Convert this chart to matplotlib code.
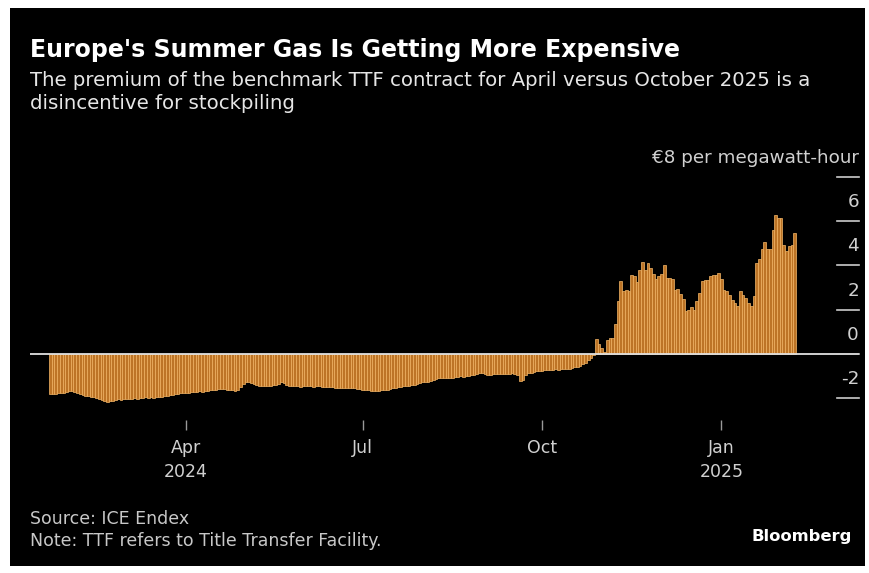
import matplotlib
matplotlib.use('Agg')
import matplotlib.pyplot as plt
from matplotlib.patches import Rectangle
import matplotlib.transforms as mtransforms
import numpy as np
import pandas as pd

# Data: daily TTF April-25 minus October-25 premium (EUR/MWh)
start_date = '2024-01-22'
end_date = '2025-02-07'
premium = [
    # Jan 22 - Mar 29, 2024
    -1.82, -1.84, -1.83, -1.80, -1.78,
    -1.76, -1.74, -1.70, -1.68, -1.72,
    -1.78, -1.82, -1.86, -1.90, -1.93,
    -1.95, -1.98, -2.02, -2.06, -2.10,
    -2.15, -2.17, -2.14, -2.12, -2.09,
    -2.06, -2.08, -2.05, -2.07, -2.04,
    -2.05, -2.02, -2.04, -2.01, -2.00,
    -1.98, -2.00, -1.97, -1.99, -1.96,
    -1.97, -1.95, -1.93, -1.90, -1.88,
    -1.86, -1.84, -1.82, -1.80, -1.79,
    # Apr 1 - Jun 28
    -1.78, -1.76, -1.75, -1.72, -1.73,
    -1.70, -1.72, -1.69, -1.67, -1.66,
    -1.64, -1.62, -1.60, -1.58, -1.61,
    -1.63, -1.65, -1.66, -1.68, -1.64,
    -1.50, -1.38, -1.30, -1.28, -1.33,
    -1.38, -1.42, -1.44, -1.46, -1.45,
    -1.47, -1.45, -1.43, -1.40, -1.38,
    -1.30, -1.32, -1.40, -1.44, -1.46,
    -1.48, -1.47, -1.49, -1.48, -1.46,
    -1.47, -1.48, -1.49, -1.47, -1.48,
    -1.49, -1.50, -1.50, -1.51, -1.52,
    -1.53, -1.54, -1.53, -1.55, -1.55,
    -1.56, -1.55, -1.57, -1.58, -1.60,
    # Jul 1 - Sep 27
    -1.62, -1.64, -1.66, -1.67, -1.68,
    -1.70, -1.68, -1.66, -1.64, -1.62,
    -1.58, -1.56, -1.54, -1.52, -1.50,
    -1.48, -1.46, -1.44, -1.42, -1.40,
    -1.36, -1.33, -1.30, -1.28, -1.26,
    -1.22, -1.18, -1.15, -1.12, -1.10,
    -1.10, -1.08, -1.10, -1.09, -1.06,
    -1.05, -1.03, -1.04, -1.02, -1.00,
    -0.98, -0.95, -0.90, -0.86, -0.88,
    -0.92, -0.95, -0.96, -0.94, -0.93,
    -0.92, -0.90, -0.93, -0.91, -0.90,
    -0.89, -0.91, -0.95, -1.25, -1.20,
    -0.95, -0.88, -0.85, -0.82, -0.80,
    # Sep 30 - Oct 25
    -0.78, -0.76, -0.74, -0.72, -0.73,
    -0.72, -0.71, -0.72, -0.70, -0.71,
    -0.70, -0.68, -0.66, -0.62, -0.58,
    -0.55, -0.48, -0.40, -0.30, -0.18,
    # Oct 28 - Dec 27
    -0.05, 0.65, 0.45, 0.25, 0.10,
    0.60, 0.70, 0.70, 1.35, 2.40,
    3.30, 2.85, 2.90, 2.85, 3.56,
    3.50, 3.25, 3.80, 4.17, 3.80,
    4.10, 3.90, 3.60, 3.40, 3.50,
    3.60, 4.00, 3.45, 3.45, 3.40,
    2.90, 2.95, 2.70, 2.50, 1.95,
    2.00, 2.10, 2.00, 2.40, 2.77,
    3.30, 3.35, 3.35, 3.50, 3.58,
    # Dec 30 - Feb 7, 2025
    3.58, 3.66, 3.40, 2.90, 2.85,
    2.68, 2.45, 2.30, 2.15, 2.83,
    2.68, 2.53, 2.30, 2.15, 2.60,
    4.12, 4.30, 4.72, 5.04, 4.72,
    4.72, 5.62, 6.26, 6.15, 6.15,
    4.94, 4.64, 4.87, 4.93, 5.47,
]
tick_dates = ['2024-04-01', '2024-07-01', '2024-10-01', '2025-01-01']
tick_labels = ['Apr\n2024', 'Jul', 'Oct', 'Jan\n2025']
y_ticks = [-2, 0, 2, 4, 6, 8]
y_labels = ['-2', '0', '2', '4', '6', '€8 per megawatt-hour']

dates = pd.bdate_range(start_date, end_date)
assert len(dates) == len(premium)
xpos = np.arange(len(dates))

W, H = 869, 573
fig = plt.figure(figsize=(W / 100, H / 100), dpi=100, facecolor='white')
fig.patches.append(Rectangle((10 / W, 1 - 566 / H), 855 / W, 558 / H,
                             transform=fig.transFigure, facecolor='black',
                             edgecolor='none', zorder=-5))

# axes: x from 30 to 859 px, y from 177 (8) to 420 (-3)
ax = fig.add_axes([30 / W, 1 - 420 / H, 829 / W, 243 / H])
ax.set_facecolor('black')
for s in ax.spines.values():
    s.set_visible(False)

ax.bar(xpos, premium, width=1.0, color='#bd7426', edgecolor='#f5b768',
       linewidth=0.5, zorder=2)
ax.axhline(0, color='#e0e0e0', lw=1.3, zorder=3)

px_per_bar = 747 / len(dates)
ax.set_xlim(-0.5 - 19 / px_per_bar, len(dates) - 0.5 + 63 / px_per_bar)
ax.set_ylim(-3.0, 8.0)

# x ticks
tick_pos = [int(np.searchsorted(dates, pd.Timestamp(d))) for d in tick_dates]
ax.set_xticks(tick_pos)
ax.set_xticklabels(tick_labels, linespacing=1.4)
ax.tick_params(axis='x', colors='#999999', labelcolor='#d0d0d0', length=7,
               width=1, labelsize=12.5, pad=7, direction='out')
ax.set_yticks([])

# y ticks on the right: short lines with labels above
trans = mtransforms.blended_transform_factory(ax.transAxes, ax.transData)
for v, lab in zip(y_ticks, y_labels):
    ax.plot([0.9735, 1.0], [v, v], color='#cccccc', lw=1.2, transform=trans,
            clip_on=False, zorder=4)
    ax.text(1.0, v + 0.86, lab, transform=trans, ha='right', va='center',
            color='#d0d0d0', fontsize=13.2)

# titles
fig.text(30 / W, 1 - 50 / H, "Europe's Summer Gas Is Getting More Expensive",
         color='white', fontsize=17, fontweight='bold', va='center', ha='left')
fig.text(30 / W, 1 - 80 / H,
         'The premium of the benchmark TTF contract for April versus October 2025 is a',
         color='#e6e6e6', fontsize=14.2, va='center', ha='left')
fig.text(30 / W, 1 - 103 / H, 'disincentive for stockpiling',
         color='#e6e6e6', fontsize=14.2, va='center', ha='left')

# footer
fig.text(30 / W, 1 - 519 / H, 'Source: ICE Endex', color='#c8c8c8',
         fontsize=12.5, va='center', ha='left')
fig.text(30 / W, 1 - 541 / H, 'Note: TTF refers to Title Transfer Facility.',
         color='#c8c8c8', fontsize=12.5, va='center', ha='left')
fig.text(852 / W, 1 - 537 / H, 'Bloomberg', color='white', fontsize=11.8,
         fontweight='bold', va='center', ha='right')

fig.savefig('out.png', dpi=100, facecolor='white')
